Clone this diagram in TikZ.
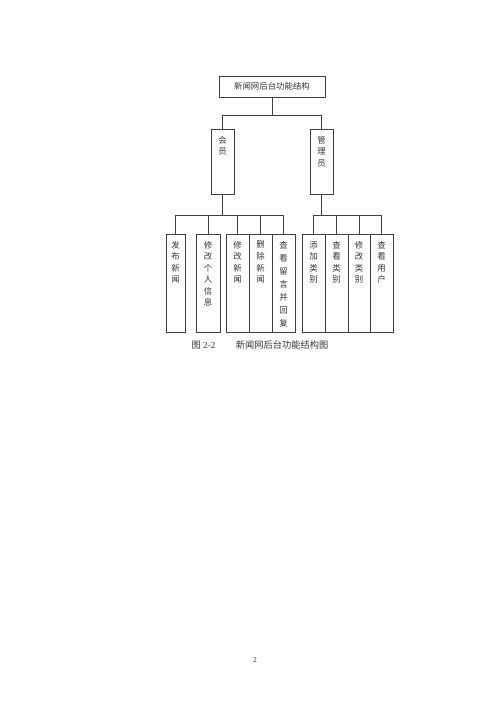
\documentclass[tikz,border=0pt]{standalone}
\usepackage{fontspec}
\setmainfont{Liberation Serif}
\newfontfamily\cjk{Noto Sans CJK SC}
\usetikzlibrary{positioning}
\tikzset{
  box/.style={draw=black!75, line width=0.6pt, inner sep=0pt},
  colbox/.style={box, minimum width=27.4pt, minimum height=116.6pt},
  rolebox/.style={box, minimum width=27.4pt, minimum height=77.4pt},
  vtext/.style={inner sep=0pt, align=center, text=black!80, font=\cjk\fontsize{10}{13.7}\selectfont},
  wire/.style={draw=black!75, line width=0.6pt}
}
\begin{document}
\begin{tikzpicture}[x=1.19pt, y=-1.19pt]
            \useasboundingbox (0,0) rectangle (500,707);
            % Root
            \node[box, minimum width=126pt, minimum height=25pt, text=black!80, font=\cjk\fontsize{10}{12}\selectfont] (root) at (272,86.5) {新闻网后台功能结构};
            
            % Roles
            \node[rolebox] (member) at (222.5,161.5) {};
            \node[rolebox] (admin) at (321.5,161.5) {};
            \node[vtext, below=8.5pt of member.north] (memberT) {会\\员};
            \node[vtext, below=8.5pt of admin.north] (adminT) {管\\理\\员};
            
            % Member functions
            \node[colbox, minimum width=22.6pt] (m1) at (175.5,283) {};
            \node[colbox, minimum width=28.6pt] (m2) at (208,283) {};
            \node[colbox] (m3) at (237.5,283) {};
            \node[colbox] (m4) at (260.5,283) {};
            \node[colbox] (m5) at (283.5,283) {};
            
            % Admin functions
            \node[colbox] (a1) at (313.5,283) {};
            \node[colbox] (a2) at (336.5,283) {};
            \node[colbox, minimum width=26.2pt] (a3) at (359,283) {};
            \node[colbox] (a4) at (381.5,283) {};
            
            % Texts in the columns
            \node[vtext, below=8.5pt of m1.north] (m1T) {发\\布\\新\\闻};
            \node[vtext, below=8.5pt of m2.north] (m2T) {修\\改\\个\\人\\信\\息};
            \node[vtext, below=8.5pt of m3.north] (m3T) {修\\改\\新\\闻};
            \node[vtext, below=8.5pt of m4.north] (m4T) {删\\除\\新\\闻};
            \node[vtext, below=8.5pt of m5.north, font=\cjk\fontsize{10}{15.5}\selectfont] (m5T) {查\\看\\留\\言\\并\\回\\复};
            \node[vtext, below=8.5pt of a1.north] (a1T) {添\\加\\类\\别};
            \node[vtext, below=8.5pt of a2.north] (a2T) {查\\看\\类\\别};
            \node[vtext, below=8.5pt of a3.north] (a3T) {修\\改\\类\\别};
            \node[vtext, below=8.5pt of a4.north] (a4T) {查\\看\\用\\户};
            
            % Tree lines
            \draw[wire] (root.south) -- ++(0,19);
            \draw[wire] (member.north) -- ++(0,-13) -| (admin.north);
            
            \draw[wire] (member.south) -- ++(0,21);
            \draw[wire] (m1.north) -- ++(0,-19) -| (m5.north);
            \draw[wire] (m2.north) -- ++(0,-19);
            \draw[wire] (m3.north) -- ++(0,-19);
            \draw[wire] (m4.north) -- ++(0,-19);
            
            \draw[wire] (admin.south) -- ++(0,21);
            \draw[wire] (a1.north) -- ++(0,-19) -| (a4.north);
            \draw[wire] (a2.north) -- ++(0,-19);
            \draw[wire] (a3.north) -- ++(0,-19);
            
            % Caption and page number
            \node[text=black!80, font=\fontsize{11}{13}\selectfont] (caption) at (260,345) {{\cjk 图} 2-2\hspace{2.2em}{\cjk 新闻网后台功能结构图}};
            \node[text=black!80, font=\fontsize{9}{11}\selectfont] (page) at (255,660) {2};
        \end{tikzpicture}
\end{document}
